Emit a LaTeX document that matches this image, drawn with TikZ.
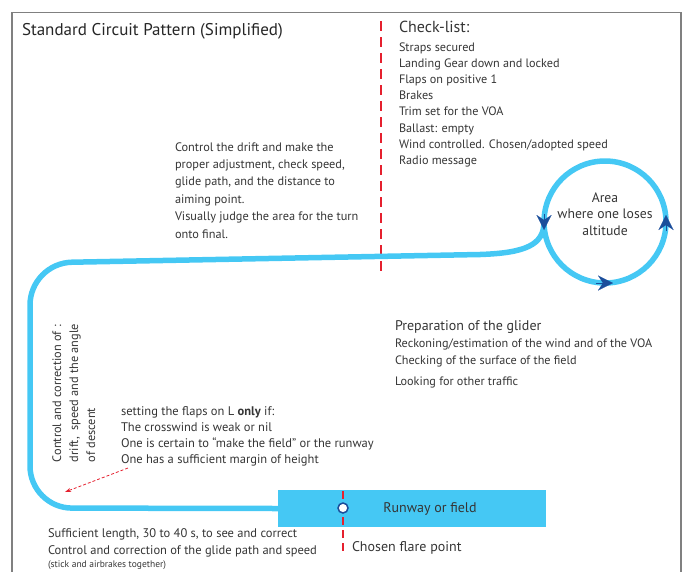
\documentclass[tikz,border=0pt]{standalone}
\usepackage{fontspec}
\setmainfont{PT Sans}
\usetikzlibrary{arrows.meta}
\definecolor{skyb}{HTML}{45C8F4}
\definecolor{darkb}{HTML}{1B4E9B}
\definecolor{redd}{HTML}{E5202E}
\definecolor{txt}{HTML}{353535}
\definecolor{framec}{HTML}{808080}
\newcommand{\fsz}[2]{\fontsize{#1}{#2}\selectfont}
\begin{document}
\begin{tikzpicture}[x=1pt,y=-1pt,
  lbl/.style={inner sep=0pt, outer sep=0pt, text=txt, align=left, anchor=base west},
  route/.style={draw=skyb, line width=5.5pt},
  tipc/.style={draw=darkb, fill=darkb, line width=0.1pt, -{Stealth[length=15pt,width=15pt,inset=5pt]}},
  reddash/.style={draw=redd, line width=2.5pt, dash pattern=on 10pt off 6pt},
  redarrow/.style={draw=redd, line width=0.8pt, dash pattern=on 3pt off 2pt, -{Stealth[length=6pt,width=4pt]}}
]
\useasboundingbox (0,0) rectangle (687,571);
\draw[framec, line width=1.2pt] (12,590) -- (12,12.5) -- (681,12.5) -- (681,590);

% title
\node[lbl, text=black!85, font=\fsz{17}{20}] (title) at (22,35) {Standard Circuit Pattern (Simplified)};

% divider
\coordinate (divtop) at (381,21);
\coordinate (divbot) at (381,273);
\draw[reddash] (divtop) -- (divbot);

% checklist (base = last line)
\node[lbl, font=\fsz{16}{18}] (chk) at (399,32) {Check-list:};
\node[lbl, font=\fsz{12.2}{16.2}] (chkitems) at (399,164.4) {Straps secured\\Landing Gear down and locked\\Flaps on positive 1\\Brakes\\Trim set for the VOA\\Ballast: empty\\Wind controlled. Chosen/adopted speed\\Radio message};

% downwind text
\node[lbl, font=\fsz{12.3}{17.4}] (drift) at (175,238) {Control the drift and make the\\proper adjustment, check speed,\\glide path, and the distance to\\aiming point.\\Visually judge the area for the turn\\onto final.};

% circle
\node[circle, draw=skyb, line width=5.5pt, minimum size=122pt, inner sep=0pt, outer sep=0pt] (circ) at (605,222) {};
\node[inner sep=0pt, text=txt, align=center, font=\fsz{13.7}{16.5}] (area) at (605,214) {Area\\where one loses\\altitude};

% runway
\node[rectangle, fill=skyb, minimum width=268pt, minimum height=37pt, inner sep=0pt, outer sep=0pt] (rw) at (412,508.5) {};
\node[inner sep=0pt, text=txt, font=\fsz{14}{16}] (rwlabel) at (430,509) {Runway or field};

% route
\draw[route, rounded corners=42pt] (rw.west) -- (30,508) -- (30,263) -- (480,254.5);
\draw[route] (480,254.5) .. controls (525,253) and (544,245) .. (circ.west);

% arrowheads on circle
\coordinate (la1) at (544,214); \coordinate (la2) at (544,230);
\coordinate (ra1) at (666,231); \coordinate (ra2) at (666,215);
\coordinate (ba1) at (596,283); \coordinate (ba2) at (613,283);
\draw[tipc] (la1) -- (la2);
\draw[tipc] (ra1) -- (ra2);
\draw[tipc] (ba1) -- (ba2);

% flare point
\coordinate (flt) at (343,491);
\coordinate (flb) at (343,554);
\draw[draw=redd, line width=2pt, dash pattern=on 8pt off 5pt] (flt) -- (flb);
\node[circle, draw=darkb, fill=white, line width=1.5pt, minimum size=10pt, inner sep=0pt] (flare) at (343,508) {};
\node[lbl, font=\fsz{14}{16}] (flarelbl) at (352,551) {Chosen flare point};

% preparation
\node[lbl, font=\fsz{14}{17}] (prep) at (395,330) {Preparation of the glider};
\node[lbl, font=\fsz{12.2}{17}] (prep2) at (395,364) {Reckoning/estimation of the wind and of the VOA\\Checking of the surface of the field};
\node[lbl, font=\fsz{12.2}{17}] (prep3) at (395,385) {Looking for other traffic};

% rotated final text (base = last line)
\node[lbl, rotate=90, font=\fsz{12.3}{17}] (ctrl) at (95,462) {Control and correction of :\\drift,\ \ speed and the angle\\of descent};

% flaps text
\node[lbl, font=\fsz{12.5}{16}] (flaps) at (121,463) {setting the flaps on L \textbf{only} if:\\The crosswind is weak or nil\\One is certain to “make the field” or the runway\\One has a sufficient margin of height};

% red dashed arrow
\coordinate (rs) at (128,468);
\coordinate (re) at (65,492);
\draw[redarrow] (rs) -- (re);

% bottom text
\node[lbl, font=\fsz{12.5}{17}] (suff) at (48,554) {Sufficient length, 30 to 40 s, to see and correct\\Control and correction of the glide path and speed};
\node[lbl, font=\fsz{9.5}{11}] (stick) at (48,567.5) {(stick and airbrakes together)};
\end{tikzpicture}
\end{document}
